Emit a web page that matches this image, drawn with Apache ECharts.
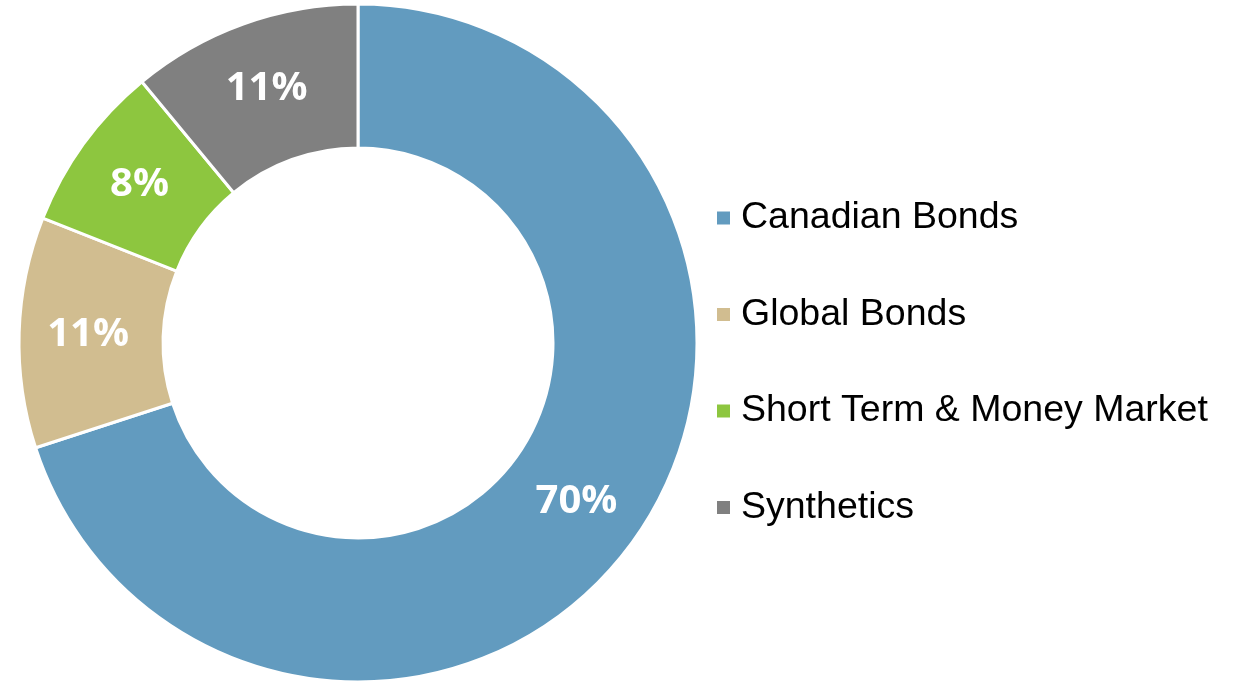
<!DOCTYPE html>
<html>
<head>
<meta charset="utf-8">
<style>
  html, body { margin: 0; padding: 0; background: #fff; }
  #chart { width: 1238px; height: 683px; }
</style>
<script src="https://cdn.jsdelivr.net/npm/echarts@6/dist/echarts.min.js"></script>
</head>
<body>
<div id="chart"></div>
<script>
const categories = ['Canadian Bonds', 'Global Bonds', 'Short Term & Money Market', 'Synthetics']
const values = [70, 11, 8, 11]
const colors = ['#629BBF', '#D1BD90', '#8DC63F', '#808080']

const chart = echarts.init(document.getElementById('chart'))
chart.setOption({
  animation: false,
  color: colors,
  legend: {
    orient: 'vertical',
    left: 715,
    top: 198,
    padding: 0,
    icon: 'rect',
    itemWidth: 15,
    itemHeight: 15,
    itemGap: 56.5,
    data: categories,
    textStyle: {
      fontFamily: 'Liberation Sans, Arial',
      fontSize: 37.5,
      lineHeight: 40,
      color: '#000',
      padding: [0, 0, 0, 5]
    }
  },
  series: [{
    type: 'pie',
    center: [358, 343],
    radius: [195, 339],
    startAngle: 90,
    clockwise: true,
    itemStyle: {
      borderColor: '#fff',
      borderWidth: 3
    },
    label: {
      position: 'inside',
      formatter: '{c}%',
      color: '#fff',
      fontFamily: 'Open Sans',
      fontWeight: 'bold',
      fontSize: 40,
      padding: [6, 0, 0, 0]
    },
    labelLine: { show: false },
    emphasis: { disabled: true },
    data: categories.map((name, i) => ({ name: name, value: values[i] }))
  }]
})
</script>
</body>
</html>
